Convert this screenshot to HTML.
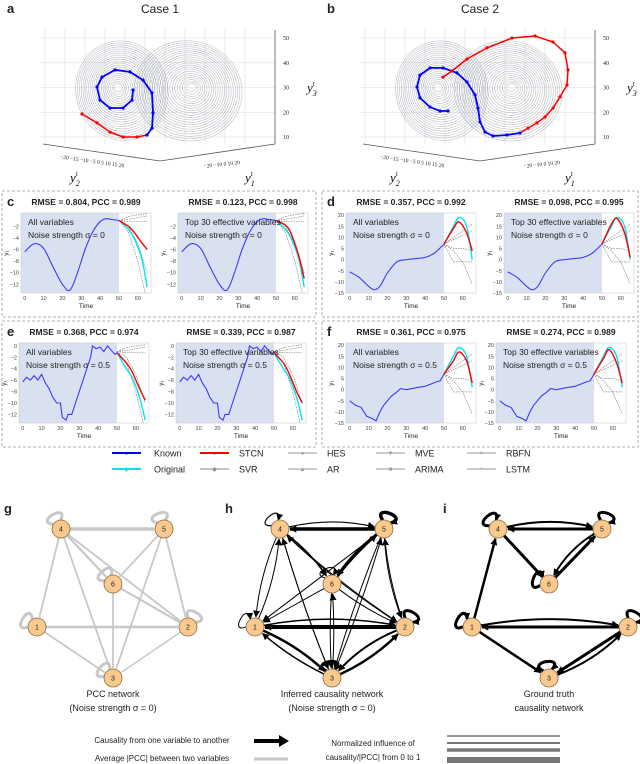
<!DOCTYPE html>
<html><head><meta charset="utf-8"><style>
body{margin:0;background:#fff;}
svg{display:block;font-family:"Liberation Sans",sans-serif;}
</style></head><body>
<svg id="fig" width="640" height="764" viewBox="0 0 640 764" xmlns="http://www.w3.org/2000/svg">
<defs>
<marker id="arr" viewBox="0 0 10 10" refX="9" refY="5" markerWidth="7" markerHeight="7" markerUnits="userSpaceOnUse" orient="auto"><path d="M0,0 L10,5 L0,10 z" fill="#000"/></marker>
</defs>
</svg>
<script>
// ---------- DATA ----------
const caseAKnownU=[-6.75,-7,-9.25,-12.5,-15,-15.75,-14.5,-11.25,-7.5,-4.25,-2,-1.75,-2,-3.25];
const caseAKnownZ=[29,24.9,21.7,21.7,24.9,30.2,34.2,37.1,36.3,33,27.8,19.7,13.6,10.8];
const caseAPredU=[-3.25,-5.75,-9.25,-12.5,-15.75,-19.5];
const caseAPredZ=[10.8,10,10,12,15.7,19.3];
const caseBKnownU=[-8,-10,-12.5,-15,-15.75,-15,-12.5,-9.25,-5.75,-3.25,-1.25,-0.5,0,1.25,3.25,6.75,10];
const caseBKnownZ=[20.5,20.5,22.1,25.8,30.2,35,37.9,37.9,35.9,32.2,27,21.7,16.1,12,10.4,10.8,11.6];
const caseBPredU=[10,12,14.25,16.25,18.25,20,21.75,22,21.25,18.25,13.75,8,1.75,-3.25,-7,-9.25];
const caseBPredZ=[11.6,13.6,15.7,18.1,21.7,26.2,31,37.1,44,48.4,50.8,50,46,41.5,36.7,34.2];
const zTicks=[10,20,30,40,50];

const smoothT=[0,5,10,15,20,24,28,32,36,40,43,46,50];
const cKnown=[-6.4,-5,-5.8,-9,-12,-13,-10,-6,-3,-1.2,-0.7,-0.8,-1];
const dT=[0,5,10,13,16,20,25,30,35,40,45,50];
const dKnown=[-5.5,-8,-12,-13.5,-12,-6,-1,0,0.5,1,3,7];
const eT=[0,2,4,6,8,10,12,14,16,18,20,21,23,24,26,28,30,32,34,36,37,39,41,43,45,47,49,50];
const eKnown=[-6.3,-5.5,-6,-5.2,-6,-5,-6.5,-7.5,-9,-10,-10,-12.5,-13,-12,-12,-10,-8,-6,-4,-2,0,-0.5,-0.2,-1,0,-0.8,-1.5,-1.2];
const fT=[0,3,6,9,12,14,16,18,20,22,25,27,30,33,36,40,43,46,48,50];
const fKnown=[-5,-7,-8,-12,-13,-14,-10,-7,-5,-3,-1,0.5,0,0.5,1,1.5,2.5,3.5,4,7];
const predT=[50,55,58,62,65];
const cOrig=[-1,-2.5,-4,-7.5,-12.5];
const cStcn1=[-1,-2,-3,-4.8,-6];
const cStcn2=[-1,-1.8,-3.2,-7,-11];
const dOrig=[7,15,19,15,0];
const dStcn1=[7,14,17,12,4];
const dStcn2=[7,16,18.5,12,1];
const eOrig=[-1.2,-4,-5.5,-9,-13];
const eStcn1=[-1.2,-3,-4.5,-7.5,-9.5];
const eStcn2=[-1.2,-3,-4.8,-8,-10];
const fOrig=[7,15,19,15,1];
const fStcn1=[7,13,17,13,3];
const fStcn2=[7,14,18,12,3];
const baseT=[50,55,60,65];
const negBase1=[-1,-0.3,0,0.2];
const negBase2=[-1,-0.8,-0.5,-0.2];
const negBase3=[-1,-1.2,-1.2,-1.2];
const negBase4=[-1,-3,-8,-15];
const negBase5=[-1,-2,-5,-10];
const posBase1=[7,10,13,16];
const posBase2=[7,9,11,13];
const posBase3=[7,5,5,4];
const posBase4=[7,4,-1,-11];
const posBase5=[7,-1,-1,-1];
const negTicks=[-12,-10,-8,-6,-4,-2];
const negTicksE=[-12,-10,-8,-6,-4,-2,0];
const posTicks=[-15,-10,-5,0,5,10,15,20];
const xTicks=[0,10,20,30,40,50,60];

// ---------- HELPERS ----------
const NS='http://www.w3.org/2000/svg';
const svg=document.getElementById('fig');
function mk(tag,attrs,parent){const e=document.createElementNS(NS,tag);for(const k in attrs)e.setAttribute(k,attrs[k]);(parent||svg).appendChild(e);return e;}
function txt(s,x,y,size,parent,anchor,extra){const e=mk('text',Object.assign({x:x,y:y,'font-size':size,'text-anchor':anchor||'middle',fill:'#222'},extra||{}),parent);e.textContent=s;return e;}
function smoothPath(pts){if(pts.length<2)return '';let d='M'+pts[0][0].toFixed(1)+','+pts[0][1].toFixed(1);
 for(let i=0;i<pts.length-1;i++){const p0=pts[i-1]||pts[i],p1=pts[i],p2=pts[i+1],p3=pts[i+2]||p2;
 const c1=[p1[0]+(p2[0]-p0[0])/6,p1[1]+(p2[1]-p0[1])/6],c2=[p2[0]-(p3[0]-p1[0])/6,p2[1]-(p3[1]-p1[1])/6];
 d+=' C'+c1.map(v=>v.toFixed(1))+' '+c2.map(v=>v.toFixed(1))+' '+p2.map(v=>v.toFixed(1));}return d;}
function polyPath(pts){return 'M'+pts.map(p=>p[0].toFixed(1)+','+p[1].toFixed(1)).join(' L');}

// ---------- 3D PANELS ----------
function draw3D(ox,letter,title,kU,kZ,pU,pZ){
 const g=mk('g',{});
 
 
 const X=u=>ox+160+u*4, Y=z=>137-(z-10)*2.475;
 const l=txt(letter,ox+7,13,13,g,'start',{'font-weight':'bold'});
 
 
 const t=txt(title,ox+160,13,12,g);
 
 
 for(let i=0;i<11;i++){const ln=mk('line',{x1:ox+45+i*20,y1:28,x2:ox+45+i*20,y2:145,stroke:'#ddd','stroke-width':0.6},g);
  
  }
 zTicks.forEach(z=>{const ln=mk('line',{x1:ox+40,y1:Y(z),x2:ox+275,y2:Y(z),stroke:'#ddd','stroke-width':0.6},g);
  
  
  const tk=txt(String(z),ox+283,Y(z)+2,6,g,'start',{'font-family':'Liberation Serif'});
  
  });
 const ax=mk('path',{d:`M${ox+43},144 L${ox+160},161 L${ox+275},144 L${ox+275},30`,fill:'none',stroke:'#555','stroke-width':0.8},g);
 
 
 for(let i=1;i<=22;i++){const f=i/22;
  const e1=mk('ellipse',{cx:X(-10.5)+f*3,cy:Y(30)+f*4,rx:2+f*44,ry:2+f*48,fill:'none',stroke:'#a8adb5','stroke-width':0.55,opacity:0.85,transform:`rotate(-14 ${X(-10.5)} ${Y(30)})`},g);
  
  
  const e2=mk('ellipse',{cx:X(8)-f*3,cy:Y(30)+f*4,rx:2+f*52,ry:2+f*48,fill:'none',stroke:'#a8adb5','stroke-width':0.55,opacity:0.85,transform:`rotate(12 ${X(8)} ${Y(30)})`},g);
  
  }
 const kp=kU.map((u,i)=>[X(u),Y(kZ[i])]), pp=pU.map((u,i)=>[X(u),Y(pZ[i])]);
 const pl=mk('path',{d:polyPath(pp),fill:'none',stroke:'#f00','stroke-width':1.5},g);
 
 
 const kl=mk('path',{d:polyPath(kp),fill:'none',stroke:'#00f','stroke-width':1.8},g);
 
 
 pp.forEach(p=>{const c=mk('circle',{cx:p[0],cy:p[1],r:1.6,fill:'#f00'},g);
  
  });
 kp.forEach(p=>{const c=mk('circle',{cx:p[0],cy:p[1],r:1.6,fill:'#00f'},g);
  
  });
 const y2t=txt('−20 −15 −10  −5   0   5  10  15  20',ox+92,163,5.5,g,'middle',{'font-family':'Liberation Serif',transform:`rotate(8 ${ox+92} 163)`});
 
 
 const y1t=txt('−20   −10     0     10    20',ox+222,166,5.5,g,'middle',{'font-family':'Liberation Serif',transform:`rotate(-6 ${ox+222} 166)`});
 
 
 const lbls=[['y','2',ox+70,182,'y2-axis-title'],['y','1',ox+245,182,'y1-axis-title'],['y','3',ox+307,92,'y3-axis-title']];
 lbls.forEach(L=>{const te=mk('text',{x:L[2],y:L[3],'font-size':13,'font-style':'italic','font-family':'Liberation Serif',fill:'#111'},g);
  
  
  te.innerHTML=L[0]+'<tspan dy="4" font-size="8">'+L[1]+'</tspan><tspan dy="-10" dx="-4" font-size="7">t</tspan>';});
}
draw3D(0,'a','Case 1',caseAKnownU,caseAKnownZ,caseAPredU,caseAPredZ);
draw3D(320,'b','Case 2',caseBKnownU,caseBKnownZ,caseBPredU,caseBPredZ);

// ---------- TIME-SERIES PANELS ----------
let clipId=0;
function subplot(g,x0,top,w,h,ydom,yticks,kT,kV,orig,stcn,bases,noise,title,label1){
 const X=t=>x0+(t+2)/69*w, Y=v=>top+h-(v-ydom[0])/(ydom[1]-ydom[0])*h;
 const cid='clip'+(clipId++);
 const cp=mk('clipPath',{id:cid},g);mk('rect',{x:x0,y:top,width:w,height:h},cp);
 const tl=txt(title,x0+w/2,top-8,8.5,g,'middle',{'font-weight':'bold'});
 
 
 const bg=mk('rect',{x:x0,y:top,width:X(50)-x0,height:h,fill:'#d9e0ef'},g);
 
 
 const fr=mk('rect',{x:x0,y:top,width:w,height:h,fill:'none',stroke:'#ccc','stroke-width':0.6},g);
 
 
 yticks.forEach(v=>{const tk=txt(String(v).replace('-','−'),x0-2,Y(v)+2,5.5,g,'end',{fill:'#444'});
  
  });
 xTicks.forEach(t=>{const tk=txt(String(t),X(t),top+h+7,5.5,g,'middle',{fill:'#444'});
  
  });
 const xl=txt('Time',x0+w/2,top+h+15,6.5,g);
 
 
 const yl=txt('y₁',x0-13,top+h/2,6.5,g,'middle',{transform:`rotate(-90 ${x0-13} ${top+h/2})`});
 
 
 const inner=mk('g',{'clip-path':`url(#${cid})`},g);
 bases.forEach(b=>{const p=mk('path',{d:polyPath(baseT.map((t,i)=>[X(t),Y(b[i])])),fill:'none',stroke:'#888','stroke-width':0.7,'stroke-dasharray':'1.5,1'},inner);
  
  });
 const op=mk('path',{d:smoothPath(predT.map((t,i)=>[X(t),Y(orig[i])])),fill:'none',stroke:'#00e5ee','stroke-width':1.4},inner);
 
 
 const sp=mk('path',{d:smoothPath(predT.map((t,i)=>[X(t),Y(stcn[i])])),fill:'none',stroke:'#f00','stroke-width':1.4},inner);
 
 
 const kp=mk('path',{d:(noise!=='0'?polyPath:smoothPath)(kT.map((t,i)=>[X(t),Y(kV[i])])),fill:'none',stroke:'#3b3bff','stroke-width':1.1},inner);
 
 
 const t1=txt(label1,x0+7,top+12,8.5,g,'start');
 
 
 const t2=txt('Noise strength σ = '+noise,x0+7,top+25,8.5,g,'start');
 
 
}
function panel(letter,bx,by,bw,o1,o2,ydom,yticks,kT,kV,orig,s1,s2,bases,noise,t1,t2){
 const g=mk('g',{});
 
 
 const box=mk('rect',{x:bx,y:by,width:bw,height:126,fill:'none',stroke:'#999','stroke-width':0.8,'stroke-dasharray':'3,2'},g);
 
 
 const l=txt(letter,bx+5,by+15,13,g,'start',{'font-weight':'bold'});
 
 
 subplot(g,bx+o1,by+22,130,80,ydom,yticks,kT,kV,orig,s1,bases,noise,t1,'All variables');
 subplot(g,bx+o2,by+22,130,80,ydom,yticks,kT,kV,orig,s2,bases,noise,t2,'Top 30 effective variables');
}
const negB=[negBase1,negBase2,negBase3,negBase4,negBase5];
const posB=[posBase1,posBase2,posBase3,posBase4,posBase5];
panel('c',2,191,314,19,176,[-13.5,0.3],negTicks,smoothT,cKnown,cOrig,cStcn1,cStcn2,negB,'0','RMSE = 0.804, PCC = 0.989','RMSE = 0.123, PCC = 0.998');
panel('d',322,191,316,24,182,[-15,21],posTicks,dT,dKnown,dOrig,dStcn1,dStcn2,posB,'0','RMSE = 0.357, PCC = 0.992','RMSE = 0.098, PCC = 0.995');
panel('e',2,321,314,17,174,[-13.5,0.5],negTicksE,eT,eKnown,eOrig,eStcn1,eStcn2,negB,'0.5','RMSE = 0.368, PCC = 0.974','RMSE = 0.339, PCC = 0.987');
panel('f',322,321,316,24,174,[-15,21],posTicks,fT,fKnown,fOrig,fStcn1,fStcn2,posB,'0.5','RMSE = 0.361, PCC = 0.975','RMSE = 0.274, PCC = 0.989');

// ---------- LEGEND ----------
const legItems=[['Known','#00f',112,453,'●'],['Original','#00e5ee',112,469,'◆'],['STCN','#f00',200,453,'●'],['SVR','#888',200,469,'◆'],
 ['HES','#999',288,453,'●'],['AR','#999',288,469,'▲'],['MVE','#999',376,453,'▼'],['ARIMA','#999',376,469,'■'],['RBFN','#999',467,453,'×'],['LSTM','#999',467,469,'•']];
legItems.forEach((L,i)=>{const g=mk('g',{});
 
 
 const big=(i<3);
 mk('line',{x1:L[2],y1:L[3],x2:L[2]+29,y2:L[3],stroke:L[1],'stroke-width':big?2:1},g);
 txt(L[4],L[2]+14.5,L[3]+2,6,g,'middle',{fill:L[1]});
 txt(L[0],L[2]+(L[2]===112?42:39),L[3]+3.5,9,g,'start');});

// ---------- NETWORKS ----------
const nodesG={4:[61,529],5:[164,529],6:[113,584],1:[37,627],2:[188,627],3:[113,678]};
const nodesH={4:[280,529],5:[384,529],6:[332,584],1:[255,627],2:[405,627],3:[332,678]};
const nodesI={4:[498,529],5:[602,529],6:[549,584],1:[472,627],2:[628,627],3:[549,678]};
const gEdges=[[4,5,3.5],[4,1,1.8],[4,3,1.8],[4,6,2.2],[4,2,1.8],[5,6,1.8],[5,3,1.8],[5,2,1.8],[6,2,2.2],[6,3,1.8],[1,2,2.5],[1,3,1.8],[2,3,1.5]];
const gLoops=[[4,-120,3],[5,-110,3],[6,-130,3],[1,-150,3],[2,-60,3],[3,-140,3]];
const hEdges=[[5,4,3.5,0],[4,5,1.2,-12],[4,1,1,8],[1,4,1,8],[4,6,1.5,-6],[4,2,1,6],[4,3,1,4],[3,4,1,-4],[5,6,3,6],[6,5,1.5,-4],[5,1,1,0],[5,3,1,4],[3,5,1,4],[5,2,1,8],[2,5,1,-6],[6,2,1,5],[2,1,4,0],[1,2,1.5,-14],[1,3,2.5,-8],[3,1,1.5,-6],[2,3,2,10],[3,2,2.5,8],[6,3,1,3],[3,6,1,3],[2,4,1,-8],[6,1,1,0]];
const hLoops=[[4,-130,1.2],[5,-70,3.5],[6,-110,1],[1,-150,1],[2,-60,3],[3,-100,3]];
const iEdges=[[5,4,3,0],[4,5,2,-12],[4,6,3,0],[6,5,3,0],[5,6,2,10],[1,4,2.5,0],[2,1,3,0],[1,2,2,-14],[1,3,2.5,0],[2,3,3,0],[3,2,2,10]];
const iLoops=[[4,-130,3],[5,-70,3],[6,-160,3],[1,-150,3],[2,-60,3],[3,-100,3]];

function network(name,nodes,edges,loops,color,directed,cap1,cap2,cx){
 const g=mk('g',{});
 
 
 const R=9;
 loops.forEach(L=>{const [x,y]=nodes[L[0]],a=L[1]*Math.PI/180,s=0.5;
  const p1=[x+R*Math.cos(a-s),y+R*Math.sin(a-s)],p2=[x+R*Math.cos(a+s),y+R*Math.sin(a+s)];
  const c1=[x+28*Math.cos(a-0.8),y+28*Math.sin(a-0.8)],c2=[x+28*Math.cos(a+0.8),y+28*Math.sin(a+0.8)];
  const p=mk('path',{d:`M${p1} C${c1} ${c2} ${p2}`,fill:'none',stroke:color,'stroke-width':L[2]},g);
  if(directed)p.setAttribute('marker-end','url(#arr)');
  
  });
 edges.forEach(E=>{const [x1,y1]=nodes[E[0]],[x2,y2]=nodes[E[1]],c=E[3]||0;
  const dx=x2-x1,dy=y2-y1,len=Math.hypot(dx,dy),nx=-dy/len,ny=dx/len;
  const mx=(x1+x2)/2+nx*c,my=(y1+y2)/2+ny*c;
  const a1=Math.atan2(my-y1,mx-x1),a2=Math.atan2(my-y2,mx-x2);
  const s=[x1+R*Math.cos(a1),y1+R*Math.sin(a1)],t=[x2+(R+1)*Math.cos(a2),y2+(R+1)*Math.sin(a2)];
  const p=mk('path',{d:`M${s} Q${mx},${my} ${t}`,fill:'none',stroke:color,'stroke-width':E[2]},g);
  if(directed)p.setAttribute('marker-end','url(#arr)');
  
  });
 for(const k in nodes){const [x,y]=nodes[k];
  const c=mk('circle',{cx:x,cy:y,r:R,fill:'#f9c98f',stroke:'#8a6a3a','stroke-width':0.8},g);
  
  
  txt(k,x,y+2.5,7,g);}
 const a=txt(cap1,cx,697,9,g);
 
 
 const b=txt(cap2,cx,711,9,g);
 
 
}
network('pcc-network',nodesG,gEdges,gLoops,'#c8c8c8',false,'PCC network','(Noise strength σ = 0)',113);
network('inferred-causality-network',nodesH,hEdges,hLoops,'#000',true,'Inferred causality network','(Noise strength σ = 0)',332);
network('ground-truth-network',nodesI,iEdges,iLoops,'#000',true,'Ground truth','causality network',549);
[['g',4],['h',225],['i',443]].forEach(P=>{const l=txt(P[0],P[1],513,13,svg,'start',{'font-weight':'bold'});
 
 });

const nl=mk('g',{});


txt('Causality from one variable to another',162,743,8,nl);
txt('Average |PCC| between two variables',162,761,8,nl);
mk('path',{d:'M254,739 L279,739 L279,735 L289,741 L279,747 L279,743 L254,743 z',fill:'#000'},nl);
mk('line',{x1:254,y1:759,x2:288,y2:759,stroke:'#c8c8c8','stroke-width':3},nl);
txt('Normalized influence of',373,746,8,nl);
txt('causality/|PCC| from 0 to 1',373,760,8,nl);
[[736,1.5],[743,2],[750,3.5],[760,6]].forEach(b=>mk('line',{x1:447,y1:b[0],x2:560,y2:b[0],stroke:'#777','stroke-width':b[1]},nl));
</script>
</body></html>
